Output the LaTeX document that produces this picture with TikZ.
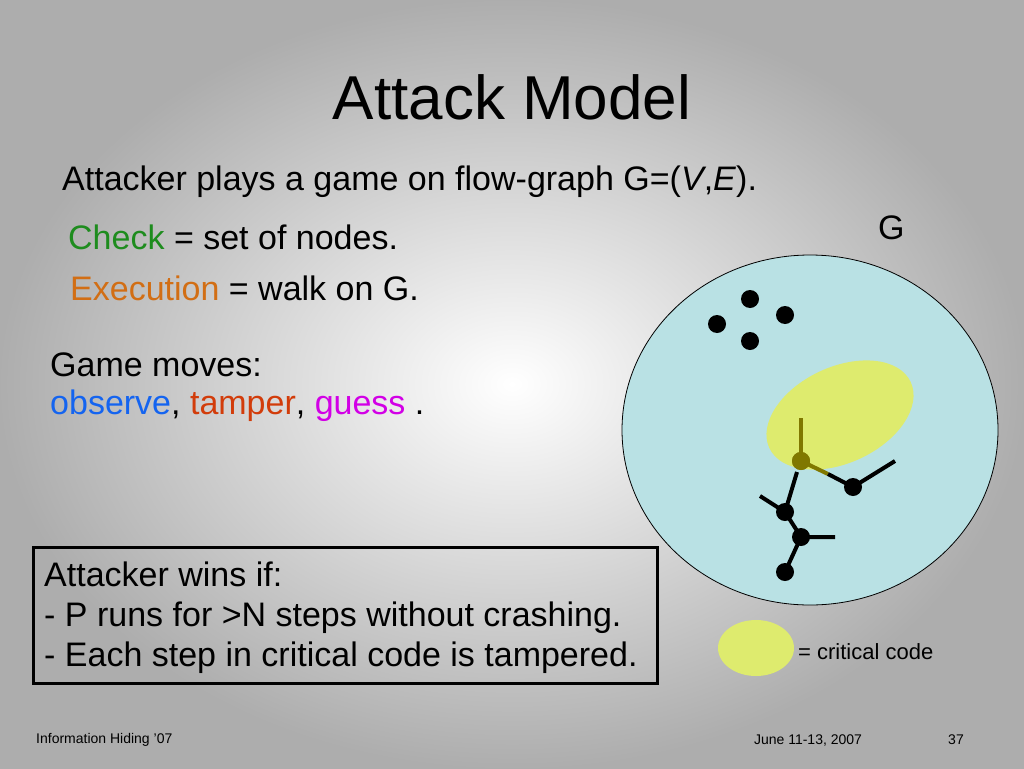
\documentclass[tikz,border=0pt]{standalone}
\usepackage{fontspec}
\setmainfont{Liberation Sans}
\usetikzlibrary{positioning}
\definecolor{sky}{RGB}{185,225,228}
\definecolor{crit}{RGB}{222,235,110}
\definecolor{olivedot}{RGB}{128,120,0}
\definecolor{chkgreen}{RGB}{30,140,30}
\definecolor{exorange}{RGB}{210,110,20}
\definecolor{obsblue}{RGB}{20,100,240}
\definecolor{tampred}{RGB}{210,60,10}
\definecolor{guessmag}{RGB}{210,0,230}
\begin{document}
\begin{tikzpicture}[x=1pt, y=-1pt,
    txt/.style={anchor=west, inner sep=0pt, font=\fontsize{34}{40}\selectfont},
    foot/.style={inner sep=0pt, font=\fontsize{14}{16}\selectfont},
    dot/.style={circle, fill=black, minimum size=18pt, inner sep=0pt},
    edge/.style={line width=4pt}]

    % Background
    \shade[inner color=white, outer color=black!32] (0,0) rectangle (1024,768);
    \useasboundingbox (0,0) rectangle (1024,768);

    % Title and text
    \node[font=\fontsize{62}{70}\selectfont] (title) at (512,97) {Attack Model};
    \node[txt] (line1) at (62,182) {Attacker plays a game on flow-graph G=(\textit{V},\textit{E}).};
    \node[txt] (check) at (68,237) {\textcolor{chkgreen}{Check} = set of nodes.};
    \node[txt] (exec) at (70,288) {\textcolor{exorange}{Execution} = walk on G.};
    \node[txt] (moves) at (50,365) {Game moves:};
    \node[txt] (kinds) at (50,406) {\textcolor{obsblue}{observe}, \textcolor{tampred}{tamper}, \textcolor{guessmag}{guess} .};
    \node[txt] (glabel) at (878,228) {G};

    % Winning condition
    \node[draw, line width=3pt, anchor=north west, minimum width=624pt, minimum height=136pt,
          inner sep=0pt] (winbox) at (32,546) {};
    \node[txt, align=left, anchor=north west] (wins) at (44,562)
        {Attacker wins if:\\- P runs for >N steps without crashing.\\- Each step in critical code is tampered.};

    % Flow graph
    \draw[fill=sky, line width=0.8pt] (810,430) ellipse [x radius=188, y radius=175];
    \fill[crit, rotate around={25:(840,415)}] (840,415) ellipse [x radius=78, y radius=48];
    \node[dot] (p1) at (750,299) {};
    \node[dot] (p2) at (717,324) {};
    \node[dot] (p3) at (785,315) {};
    \node[dot] (p4) at (750,341) {};
    \coordinate (ua) at (801,418);
    \coordinate (ub) at (895,461);
    \coordinate (uc) at (760,496);
    \coordinate (ud) at (835,537);
    \node[dot] (nb) at (853,487) {};
    \node[dot] (nc) at (785,512) {};
    \node[dot] (nd) at (801,537) {};
    \node[dot] (ne) at (785,572) {};
    \node[dot, fill=olivedot] (na) at (801,461) {};
    \draw[edge, olivedot] (na.center) -- (ua);
    \draw[edge, olivedot] (na.center) -- (828,474);
    \draw[edge] (828,474) -- (nb.center) -- (ub);
    \draw[edge] (na.center) ++(-4,11) -- (nc.center);
    \draw[edge] (nc.center) -- (uc);
    \draw[edge] (nc.center) -- (nd.center) -- (ud);
    \draw[edge] (nd.center) -- (ne.center);
    \node[dot, fill=olivedot] at (na) {};

    % Legend
    \fill[crit] (756,648) ellipse [x radius=38, y radius=28];
    \node[anchor=west, inner sep=0pt, font=\fontsize{22}{26}\selectfont] (legend) at (798,652) {= critical code};

    % Footer
    \node[foot, anchor=west] (ftl) at (36,740) {Information Hiding '07};
    \node[foot] (ftm) at (808,740) {June 11-13, 2007};
    \node[foot] (ftr) at (956,740) {37};
\end{tikzpicture}
\end{document}
